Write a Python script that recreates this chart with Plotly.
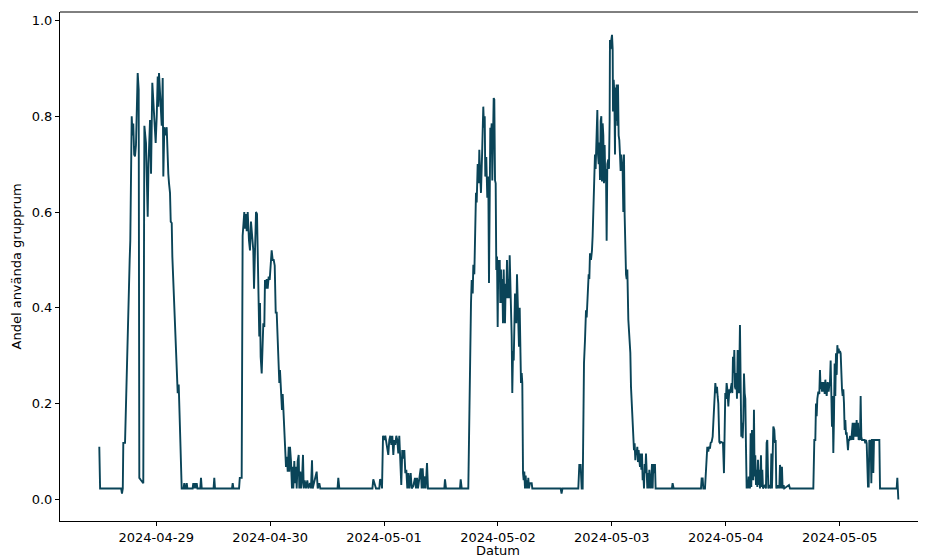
import pandas as pd
import plotly.graph_objects as go

START = pd.Timestamp("2024-04-28 12:00")

# Hours since START and share of group rooms in use, per segment
seg1_h = [0.0, 0.17, 4.6, 4.78, 4.95, 5.06, 5.42, 5.77, 6.1, 6.26, 6.4, 6.53, 6.83, 7.0, 7.16, 7.35, 7.52, 7.73, 7.94, 8.09,
          8.3, 8.43, 8.79, 9.27, 9.5, 9.84, 10.2, 10.37, 10.69, 10.9, 11.17, 11.38, 11.57, 11.74, 11.88, 12.1, 12.31, 12.44, 12.58, 12.79,
          12.96, 13.15, 13.36, 13.49, 13.7, 13.95, 14.2, 14.37, 14.54, 14.69, 14.9, 15.05, 15.26, 15.39, 15.59, 15.8, 15.95, 16.1, 16.31, 16.52,
          16.73, 16.86, 17.07, 17.36]
seg1_v = [0.11, 0.023, 0.023, 0.012, 0.023, 0.118, 0.118, 0.277, 0.40, 0.465, 0.50, 0.54, 0.80, 0.76, 0.785, 0.72, 0.716, 0.74, 0.855, 0.89,
          0.855, 0.045, 0.04, 0.034, 0.78, 0.744, 0.59, 0.70, 0.792, 0.68, 0.87, 0.83, 0.80, 0.78, 0.744, 0.80, 0.883, 0.82, 0.89, 0.85,
          0.80, 0.78, 0.88, 0.674, 0.777, 0.76, 0.777, 0.70, 0.68, 0.66, 0.64, 0.58, 0.577, 0.507, 0.452, 0.423, 0.36, 0.298, 0.277, 0.222,
          0.24, 0.173, 0.124, 0.023]

gap1_h = [17.75, 17.91, 18.05, 18.28, 18.42, 18.56, 19.67, 19.81, 19.96, 20.16, 20.36, 20.52, 20.68, 21.28, 21.43, 21.58,
          24.08, 24.23, 24.38, 27.96, 28.11, 28.26]
gap1_v = [0.023, 0.034, 0.023, 0.023, 0.034, 0.023, 0.023, 0.034, 0.023, 0.034, 0.023, 0.034, 0.023, 0.023, 0.045, 0.023,
          0.023, 0.045, 0.023, 0.023, 0.034, 0.023]

seg2_h = [29.45, 29.6, 29.85, 30.0, 30.2, 30.34, 30.55, 30.7, 30.91, 31.06, 31.27, 31.54, 31.75, 31.96, 32.17, 32.45, 32.6, 32.81, 33.02, 33.23,
          33.5, 33.71, 33.86, 34.0, 34.22, 34.43, 34.56, 34.77, 34.91, 35.12, 35.27, 35.48, 35.69, 35.9, 36.11, 36.32, 36.53, 36.75, 36.96, 37.17,
          37.38, 37.59, 37.72, 37.93, 38.07, 38.28, 38.49, 38.64, 38.85, 39.06, 39.19, 39.34, 39.55, 39.7, 39.91, 40.03, 40.18, 40.39, 40.6, 40.75,
          40.88, 41.09, 41.24, 41.45, 41.59, 41.8, 42.01, 42.14, 42.35, 42.5, 42.71, 42.92, 43.07, 43.28, 43.55, 43.83, 44.04, 44.4, 44.6, 44.82,
          44.96, 45.8, 46.02, 46.36, 46.57, 50.2, 50.36, 50.57]
seg2_v = [0.023, 0.045, 0.045, 0.045, 0.55, 0.577, 0.60, 0.565, 0.596, 0.56, 0.60, 0.54, 0.52, 0.58, 0.56, 0.52, 0.44, 0.54, 0.60, 0.596,
          0.416, 0.34, 0.41, 0.298, 0.263, 0.319, 0.368, 0.36, 0.458, 0.44, 0.46, 0.44, 0.465, 0.458, 0.50, 0.52, 0.50, 0.50, 0.488, 0.39,
          0.39, 0.326, 0.27, 0.243, 0.27, 0.229, 0.187, 0.22, 0.173, 0.16, 0.118, 0.068, 0.089, 0.058, 0.11, 0.058, 0.11, 0.08, 0.023, 0.068,
          0.023, 0.08, 0.034, 0.068, 0.023, 0.08, 0.093, 0.023, 0.058, 0.023, 0.04, 0.093, 0.023, 0.04, 0.023, 0.04, 0.023, 0.034, 0.023, 0.082,
          0.023, 0.058, 0.023, 0.034, 0.023, 0.023, 0.045, 0.023]

seg3_h = [57.55, 57.73, 58.09, 58.3, 59.0, 59.15, 59.36, 59.57, 59.78, 60.05, 60.26, 60.47, 60.68, 60.89, 61.1, 61.31, 61.53, 61.74, 61.95, 62.16,
          62.37, 62.58, 62.79, 63.0, 63.21, 63.42, 63.63, 63.84, 64.05, 64.27, 64.48, 64.69, 64.9, 65.11, 65.32, 65.61, 65.82, 66.16, 66.52, 66.73,
          66.94, 67.15, 67.42, 67.72, 67.93, 68.14, 68.35, 68.63, 68.77, 69.05, 69.26, 72.7, 72.84, 73.05, 76.0, 76.15, 76.36]
seg3_v = [0.023, 0.042, 0.03, 0.023, 0.023, 0.042, 0.04, 0.023, 0.133, 0.124, 0.133, 0.12, 0.114, 0.093, 0.124, 0.133, 0.114, 0.133, 0.093, 0.124,
          0.114, 0.133, 0.124, 0.096, 0.133, 0.093, 0.03, 0.103, 0.085, 0.103, 0.055, 0.062, 0.023, 0.055, 0.023, 0.055, 0.023, 0.028, 0.045, 0.023,
          0.045, 0.023, 0.04, 0.065, 0.023, 0.065, 0.023, 0.048, 0.023, 0.076, 0.023, 0.023, 0.042, 0.023, 0.023, 0.042, 0.023]

seg4_h = [77.75, 78.32, 78.47, 78.68, 78.81, 79.02, 79.16, 79.37, 79.52, 79.73, 79.94, 80.07, 80.21, 80.42, 80.64, 80.78, 80.91, 81.06, 81.21, 81.33,
          81.54, 81.75, 81.96, 82.11, 82.26, 82.39, 82.53, 82.68, 82.81, 82.95, 83.1, 83.23, 83.38, 83.52, 83.65, 83.8, 83.94, 84.07, 84.22, 84.37,
          84.49, 84.64, 84.79, 84.91, 85.06, 85.21, 85.34, 85.48, 85.63, 85.76, 85.9, 86.05, 86.18, 86.33, 86.47, 86.6, 86.75, 86.89, 87.02, 87.17,
          87.32, 87.44, 87.59, 87.74, 87.86, 88.01, 88.16, 88.29, 88.43, 88.58, 88.71, 88.85, 89.0, 89.13, 89.28, 89.42, 89.55, 89.7, 89.84, 89.97,
          90.12, 90.27, 90.39, 90.54, 90.75, 91.11, 91.24, 97.2, 97.4, 97.6]
seg4_v = [0.023, 0.41, 0.458, 0.43, 0.49, 0.47, 0.57, 0.64, 0.62, 0.70, 0.66, 0.73, 0.69, 0.64, 0.715, 0.785, 0.82, 0.776, 0.80, 0.674,
          0.715, 0.63, 0.674, 0.452, 0.73, 0.776, 0.76, 0.785, 0.666, 0.73, 0.838, 0.835, 0.666, 0.66, 0.479, 0.507, 0.36, 0.50, 0.46, 0.50,
          0.41, 0.48, 0.41, 0.46, 0.368, 0.48, 0.41, 0.368, 0.45, 0.42, 0.50, 0.42, 0.46, 0.42, 0.51, 0.46, 0.37, 0.34, 0.222, 0.31,
          0.29, 0.38, 0.43, 0.40, 0.368, 0.47, 0.41, 0.368, 0.319, 0.40, 0.30, 0.243, 0.264, 0.243, 0.055, 0.04, 0.058, 0.023, 0.05, 0.023,
          0.04, 0.023, 0.045, 0.023, 0.034, 0.034, 0.023, 0.023, 0.012, 0.023]

seg5_h = [100.93, 101.14, 101.42, 101.64, 101.85, 102.13, 102.34, 102.55, 102.69, 102.9, 103.11, 103.25, 103.39, 103.6, 103.81, 103.95, 104.16, 104.3, 104.44, 104.58,
          104.8, 104.94, 105.08, 105.22, 105.36, 105.5, 105.64, 105.78, 105.92, 106.06, 106.2, 106.34, 106.48, 106.62, 106.76, 106.9, 107.04, 107.25, 107.39, 107.53,
          107.6, 107.74, 107.88, 108.03, 108.17, 108.24, 108.38, 108.52, 108.66, 108.73, 108.87, 109.01, 109.15, 109.29, 109.43, 109.57, 109.71, 109.85, 109.99, 110.13,
          110.27, 110.41, 110.55, 110.69, 110.83, 110.98, 111.12, 111.26, 111.47, 111.68, 111.89, 112.03, 112.24, 112.38, 112.52, 112.66, 112.8, 112.94, 113.08, 113.22,
          113.36, 113.5, 113.64, 113.78, 113.92, 114.07, 114.21, 114.35, 114.49, 114.63, 114.77, 114.91, 115.05, 115.19, 115.33, 115.47, 115.61, 115.75, 115.89, 116.03,
          116.17, 116.31, 116.45, 116.59, 116.73, 116.94, 117.08, 117.22, 120.65, 120.8, 121.02]
seg5_v = [0.023, 0.072, 0.072, 0.023, 0.023, 0.285, 0.333, 0.395, 0.38, 0.444, 0.47, 0.46, 0.514, 0.50, 0.52, 0.55, 0.64, 0.71, 0.72, 0.69,
          0.806, 0.813, 0.72, 0.70, 0.745, 0.667, 0.79, 0.80, 0.664, 0.785, 0.76, 0.66, 0.74, 0.664, 0.69, 0.54, 0.70, 0.71, 0.69, 0.79,
          0.959, 0.94, 0.959, 0.97, 0.94, 0.81, 0.876, 0.85, 0.72, 0.86, 0.79, 0.866, 0.78, 0.866, 0.76, 0.75, 0.72, 0.686, 0.72, 0.70,
          0.686, 0.60, 0.72, 0.595, 0.49, 0.47, 0.46, 0.48, 0.375, 0.347, 0.306, 0.235, 0.187, 0.175, 0.138, 0.103, 0.117, 0.082, 0.103, 0.096,
          0.11, 0.078, 0.103, 0.089, 0.068, 0.096, 0.062, 0.096, 0.04, 0.055, 0.023, 0.074, 0.055, 0.096, 0.055, 0.023, 0.055, 0.023, 0.062, 0.04,
          0.023, 0.04, 0.074, 0.023, 0.074, 0.055, 0.074, 0.023, 0.023, 0.034, 0.023]

seg6_h = [126.78, 126.92, 127.13, 127.27, 127.62, 127.83, 127.97, 128.11, 128.32, 128.46, 128.67, 128.81, 129.02, 129.24, 129.38, 129.59, 129.8, 130.01, 130.15, 130.29,
          130.43, 130.64, 130.78, 130.99, 131.2, 131.41, 131.62, 131.76, 131.9, 132.04, 132.18, 132.33, 132.54, 132.75, 132.89, 133.03, 133.24, 133.38, 133.52, 133.66,
          133.8, 133.94, 134.08, 134.22, 134.36, 134.5, 134.64, 134.78, 134.99, 135.13, 135.27, 135.42, 135.56, 135.7, 135.84, 135.98, 136.12, 136.26, 136.4, 136.54,
          136.68, 136.82, 136.96, 137.1, 137.24, 137.38, 137.52, 137.66, 137.8, 137.94, 138.08, 138.22, 138.37, 138.51, 138.65, 138.79, 138.93, 139.07, 139.21, 139.42,
          139.56, 139.7, 139.84, 140.26, 140.47, 140.61, 140.75, 140.96, 141.31, 141.46, 141.6, 141.74, 142.02, 142.23, 142.37, 142.51, 142.65, 142.86, 143.0, 143.14,
          143.28, 143.42, 143.56, 143.7, 143.84, 143.98, 144.19, 144.33, 145.32, 145.53]
seg6_v = [0.023, 0.044, 0.044, 0.023, 0.023, 0.06, 0.062, 0.11, 0.10, 0.11, 0.106, 0.118, 0.12, 0.131, 0.16, 0.222, 0.243, 0.222, 0.235, 0.215,
          0.20, 0.12, 0.118, 0.12, 0.118, 0.118, 0.055, 0.20, 0.222, 0.21, 0.243, 0.23, 0.194, 0.23, 0.222, 0.23, 0.243, 0.222, 0.298, 0.264,
          0.312, 0.235, 0.23, 0.264, 0.21, 0.312, 0.243, 0.222, 0.364, 0.29, 0.131, 0.16, 0.128, 0.166, 0.263, 0.222, 0.21, 0.11, 0.023, 0.04,
          0.023, 0.048, 0.04, 0.023, 0.138, 0.026, 0.145, 0.096, 0.04, 0.187, 0.048, 0.092, 0.03, 0.062, 0.026, 0.083, 0.03, 0.062, 0.023, 0.092,
          0.026, 0.062, 0.023, 0.03, 0.023, 0.118, 0.124, 0.023, 0.03, 0.023, 0.096, 0.023, 0.152, 0.145, 0.118, 0.124, 0.023, 0.03, 0.023, 0.03,
          0.023, 0.072, 0.062, 0.023, 0.068, 0.023, 0.03, 0.023, 0.03, 0.023]

seg7_h = [150.45, 150.66, 150.87, 151.01, 151.15, 151.29, 151.5, 151.71, 151.85, 151.99, 152.13, 152.28, 152.42, 152.56, 152.7, 152.84, 152.98, 153.12, 153.26, 153.47,
          153.68, 153.82, 153.96, 154.1, 154.24, 154.38, 154.52, 154.66, 154.8, 154.94, 155.08, 155.22, 155.37, 155.51, 155.65, 155.79, 155.93, 156.07, 156.21, 156.35,
          156.49, 156.63, 156.77, 156.91, 157.05, 157.19, 157.33, 157.47, 157.61, 157.75, 157.89, 158.03, 158.17, 158.31, 158.46, 158.6, 158.74, 158.88, 159.02, 159.16,
          159.3, 159.44, 159.58, 159.72, 159.86, 160.0, 160.14, 160.28, 160.42, 160.56, 160.7, 160.98, 161.26, 161.4, 161.55, 161.69, 161.83, 161.97, 162.11, 162.25,
          162.39, 162.53, 162.67, 162.81, 162.95, 163.09, 163.23, 164.36, 164.5, 168.01, 168.15, 168.36]
seg7_v = [0.023, 0.124, 0.124, 0.20, 0.174, 0.21, 0.225, 0.22, 0.27, 0.23, 0.245, 0.225, 0.245, 0.225, 0.245, 0.22, 0.25, 0.23, 0.216, 0.245,
          0.225, 0.24, 0.245, 0.29, 0.19, 0.152, 0.216, 0.097, 0.17, 0.284, 0.216, 0.305, 0.26, 0.322, 0.305, 0.315, 0.305, 0.31, 0.305, 0.245,
          0.23, 0.216, 0.23, 0.20, 0.145, 0.166, 0.135, 0.14, 0.124, 0.103, 0.124, 0.124, 0.131, 0.131, 0.124, 0.138, 0.16, 0.124, 0.16, 0.131,
          0.16, 0.131, 0.166, 0.131, 0.16, 0.124, 0.131, 0.124, 0.216, 0.131, 0.124, 0.124, 0.124, 0.117, 0.124, 0.117, 0.027, 0.027, 0.027, 0.124,
          0.117, 0.124, 0.034, 0.124, 0.124, 0.055, 0.124, 0.124, 0.023, 0.023, 0.045, 0.0]

X_TITLE = "Datum"
Y_TITLE = "Andel använda grupprum"
Y_TICKS = [0.0, 0.2, 0.4, 0.6, 0.8, 1.0]

segments = [(seg1_h, seg1_v), (gap1_h, gap1_v), (seg2_h, seg2_v), (seg3_h, seg3_v),
            (seg4_h, seg4_v), (seg5_h, seg5_v), (seg6_h, seg6_v), (seg7_h, seg7_v)]
hours, share = [], []
for hh, vv in segments:
    assert len(hh) == len(vv), (len(hh), len(vv))
    hours += hh
    share += vv

times = START + pd.to_timedelta(hours, unit="h")

fig = go.Figure(go.Scatter(
    x=times, y=share, mode="lines",
    line=dict(color="#0a4458", width=1.9),
    hoverinfo="skip",
))

x_lo = START + pd.Timedelta(hours=-8.28)
x_hi = START + pd.Timedelta(hours=174.19)

# The page adds an 8px body margin, so the figure is sized/offset to compensate.
fig.update_layout(
    width=918, height=550,
    margin=dict(l=52, r=0, t=4, b=37),
    plot_bgcolor="white", paper_bgcolor="white",
    showlegend=False, hovermode=False,
    font=dict(family="DejaVu Sans", size=13, color="black"),
)
fig.update_xaxes(
    range=[x_lo, x_hi], showgrid=False, zeroline=False,
    showline=True, linecolor="black", linewidth=1,
    ticks="outside", ticklen=4, tickwidth=1, tickcolor="black",
    tickformat="%Y-%m-%d", dtick=86400000, tick0="2024-04-29",
)
fig.update_yaxes(
    range=[-0.045, 1.0176], showgrid=False, zeroline=False,
    showline=True, linecolor="black", linewidth=1,
    ticks="outside", ticklen=4, tickwidth=1, tickcolor="black",
    tickmode="array", tickvals=Y_TICKS, ticktext=[f"{t:.1f}" for t in Y_TICKS],
)
fig.add_shape(type="line", xref="paper", yref="paper", x0=0, x1=1, y0=1, y1=1,
              line=dict(color="black", width=1))
fig.add_annotation(text=Y_TITLE, xref="paper", yref="paper", x=-0.0497, y=0.5,
                   xanchor="center", yanchor="middle", textangle=-90, showarrow=False,
                   font=dict(size=13))
fig.add_annotation(text=X_TITLE, xref="paper", yref="paper", x=0.5058, y=-0.058,
                   xanchor="center", yanchor="middle", showarrow=False,
                   font=dict(size=13))

fig.write_html("out.html", config={"displayModeBar": False})
